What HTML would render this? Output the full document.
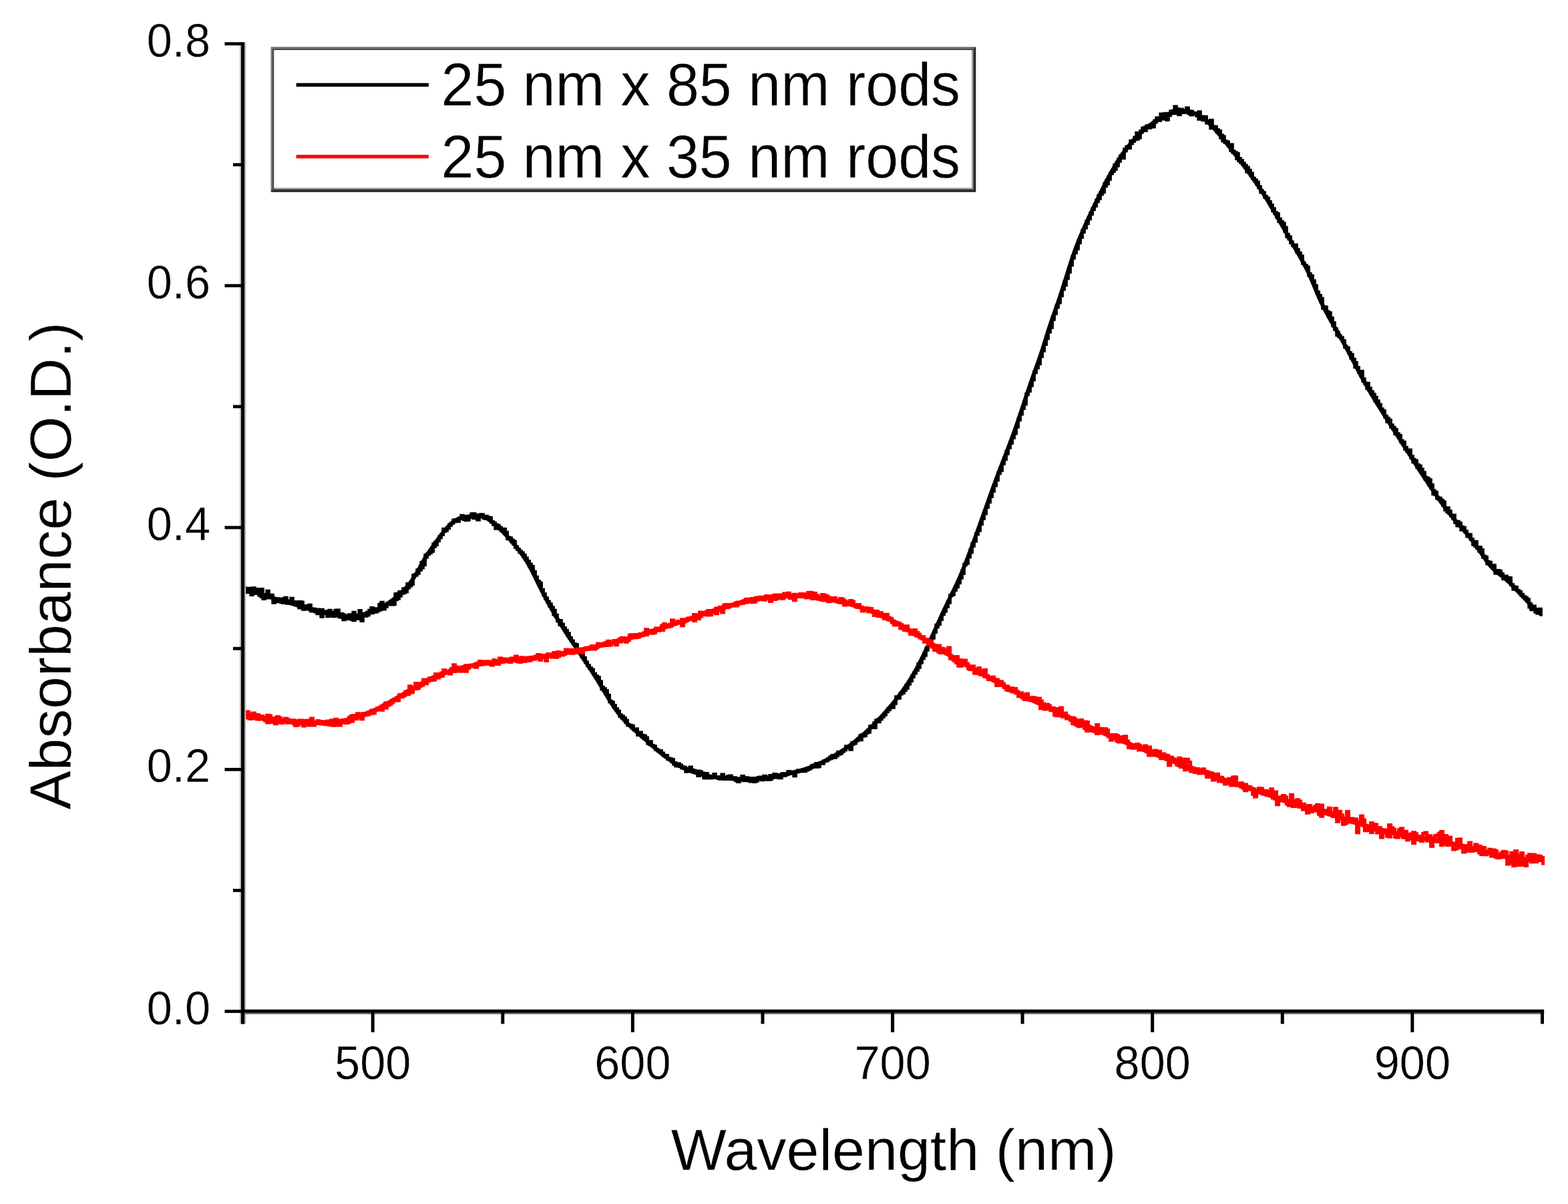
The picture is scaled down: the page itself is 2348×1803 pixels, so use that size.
<!DOCTYPE html>
<html><head><meta charset="utf-8"><title>Absorbance spectra</title>
<style>html,body{margin:0;padding:0;background:#fff;}svg{display:block;}</style>
</head><body>
<svg width="2348" height="1803" viewBox="0 0 2348 1803">
<style>text{font-family:"Liberation Sans",Arial,sans-serif;fill:#000;stroke:#fff;stroke-width:0.4px;}</style>
<rect width="2348" height="1803" fill="#fff"/>
<path d="M363.6,879.7 L366.6,880.8 L369.6,882.0 L372.6,883.1 L375.6,884.2 L378.6,885.3 L381.6,886.4 L384.6,887.5 L387.6,888.5 L390.6,889.5 L393.6,890.6 L396.6,891.6 L399.6,892.6 L402.6,893.5 L405.6,894.5 L408.6,895.4 L411.6,896.4 L414.6,897.3 L417.6,898.2 L420.6,899.2 L423.6,900.1 L426.6,901.0 L429.6,901.9 L432.6,902.8 L435.6,903.6 L438.6,904.5 L441.6,905.4 L444.6,906.3 L447.6,907.2 L450.6,908.0 L453.6,908.9 L456.6,909.8 L459.6,910.6 L462.6,911.5 L465.6,912.3 L468.6,913.2 L471.6,914.0 L474.6,914.8 L477.6,915.6 L480.6,916.4 L483.6,917.1 L486.6,917.8 L489.6,918.5 L492.6,919.2 L495.6,919.8 L498.6,920.4 L501.6,920.9 L504.6,921.4 L507.6,921.9 L510.6,922.2 L513.6,922.5 L516.6,922.6 L519.6,922.7 L522.6,922.7 L525.6,922.6 L528.6,922.5 L531.6,922.2 L534.6,921.8 L537.6,921.3 L540.6,920.8 L543.6,920.1 L546.6,919.4 L549.6,918.5 L552.6,917.5 L555.6,916.5 L558.6,915.3 L561.6,914.1 L564.6,912.7 L567.6,911.2 L570.6,909.7 L573.6,908.0 L576.6,906.2 L579.6,904.3 L582.6,902.3 L585.6,900.2 L588.6,898.0 L591.6,895.6 L594.6,893.2 L597.6,890.6 L600.6,887.9 L603.6,885.0 L606.6,881.9 L609.6,878.5 L612.6,874.9 L615.6,871.0 L618.6,866.8 L621.6,862.2 L624.6,857.3 L627.6,851.9 L630.6,846.2 L633.6,840.7 L636.6,835.5 L639.6,830.8 L642.6,826.3 L645.6,822.0 L648.6,817.8 L651.6,813.6 L654.6,809.4 L657.6,805.3 L660.6,801.3 L663.6,797.4 L666.6,793.7 L669.6,790.2 L672.6,787.0 L675.6,784.2 L678.6,781.7 L681.6,779.6 L684.6,777.9 L687.6,776.5 L690.6,775.5 L693.6,774.7 L696.6,774.1 L699.6,773.7 L702.6,773.4 L705.6,773.2 L708.6,773.0 L711.6,772.7 L714.6,772.6 L717.6,772.6 L720.6,773.0 L723.6,773.7 L726.6,775.0 L729.6,776.6 L732.6,778.6 L735.6,780.8 L738.6,783.2 L741.6,785.8 L744.6,788.4 L747.6,791.2 L750.6,794.0 L753.6,797.0 L756.6,800.1 L759.6,803.3 L762.6,806.6 L765.6,810.1 L768.6,813.6 L771.6,817.2 L774.6,820.9 L777.6,824.7 L780.6,828.7 L783.6,832.8 L786.6,837.2 L789.6,842.0 L792.6,847.2 L795.6,852.8 L798.6,858.7 L801.6,864.8 L804.6,870.9 L807.6,877.1 L810.6,883.0 L813.6,888.9 L816.6,894.6 L819.6,900.2 L822.6,905.7 L825.6,911.1 L828.6,916.3 L831.6,921.4 L834.6,926.5 L837.6,931.4 L840.6,936.3 L843.6,941.0 L846.6,945.7 L849.6,950.3 L852.6,954.9 L855.6,959.4 L858.6,963.9 L861.6,968.3 L864.6,972.7 L867.6,977.1 L870.6,981.6 L873.6,986.0 L876.6,990.5 L879.6,995.0 L882.6,999.6 L885.6,1004.2 L888.6,1008.9 L891.6,1013.7 L894.6,1018.5 L897.6,1023.4 L900.6,1028.3 L903.6,1033.3 L906.6,1038.3 L909.6,1043.3 L912.6,1048.2 L915.6,1053.0 L918.6,1057.7 L921.6,1062.0 L924.6,1066.1 L927.6,1070.0 L930.6,1073.6 L933.6,1077.1 L936.6,1080.3 L939.6,1083.4 L942.6,1086.3 L945.6,1089.2 L948.6,1091.9 L951.6,1094.6 L954.6,1097.2 L957.6,1099.8 L960.6,1102.4 L963.6,1105.0 L966.6,1107.6 L969.6,1110.3 L972.6,1112.9 L975.6,1115.6 L978.6,1118.2 L981.6,1120.8 L984.6,1123.4 L987.6,1125.9 L990.6,1128.4 L993.6,1130.8 L996.6,1133.2 L999.6,1135.4 L1002.6,1137.6 L1005.6,1139.6 L1008.6,1141.6 L1011.6,1143.4 L1014.6,1145.2 L1017.6,1146.9 L1020.6,1148.5 L1023.6,1149.9 L1026.6,1151.4 L1029.6,1152.7 L1032.6,1153.9 L1035.6,1155.1 L1038.6,1156.2 L1041.6,1157.2 L1044.6,1158.1 L1047.6,1159.0 L1050.6,1159.8 L1053.6,1160.6 L1056.6,1161.3 L1059.6,1161.9 L1062.6,1162.5 L1065.6,1163.1 L1068.6,1163.6 L1071.6,1164.0 L1074.6,1164.4 L1077.6,1164.8 L1080.6,1165.1 L1083.6,1165.4 L1086.6,1165.7 L1089.6,1165.9 L1092.6,1166.1 L1095.6,1166.3 L1098.6,1166.4 L1101.6,1166.5 L1104.6,1166.6 L1107.6,1166.7 L1110.6,1166.7 L1113.6,1166.7 L1116.6,1166.6 L1119.6,1166.6 L1122.6,1166.5 L1125.6,1166.3 L1128.6,1166.2 L1131.6,1166.0 L1134.6,1165.8 L1137.6,1165.5 L1140.6,1165.3 L1143.6,1165.0 L1146.6,1164.6 L1149.6,1164.3 L1152.6,1163.9 L1155.6,1163.4 L1158.6,1163.0 L1161.6,1162.5 L1164.6,1162.0 L1167.6,1161.5 L1170.6,1160.9 L1173.6,1160.3 L1176.6,1159.7 L1179.6,1159.0 L1182.6,1158.3 L1185.6,1157.6 L1188.6,1156.8 L1191.6,1156.0 L1194.6,1155.1 L1197.6,1154.3 L1200.6,1153.3 L1203.6,1152.4 L1206.6,1151.4 L1209.6,1150.3 L1212.6,1149.2 L1215.6,1148.1 L1218.6,1146.9 L1221.6,1145.7 L1224.6,1144.4 L1227.6,1143.0 L1230.6,1141.7 L1233.6,1140.2 L1236.6,1138.7 L1239.6,1137.2 L1242.6,1135.6 L1245.6,1133.9 L1248.6,1132.2 L1251.6,1130.5 L1254.6,1128.6 L1257.6,1126.7 L1260.6,1124.8 L1263.6,1122.8 L1266.6,1120.7 L1269.6,1118.6 L1272.6,1116.4 L1275.6,1114.1 L1278.6,1111.8 L1281.6,1109.4 L1284.6,1106.9 L1287.6,1104.4 L1290.6,1101.8 L1293.6,1099.2 L1296.6,1096.5 L1299.6,1093.7 L1302.6,1090.8 L1305.6,1087.9 L1308.6,1085.0 L1311.6,1081.9 L1314.6,1078.8 L1317.6,1075.7 L1320.6,1072.4 L1323.6,1069.1 L1326.6,1065.8 L1329.6,1062.3 L1332.6,1058.8 L1335.6,1055.3 L1338.6,1051.6 L1341.6,1047.9 L1344.6,1044.0 L1347.6,1040.1 L1350.6,1036.0 L1353.6,1031.8 L1356.6,1027.4 L1359.6,1022.9 L1362.6,1018.2 L1365.6,1013.3 L1368.6,1008.3 L1371.6,1003.0 L1374.6,997.5 L1377.6,991.8 L1380.6,985.8 L1383.6,979.6 L1386.6,973.3 L1389.6,966.8 L1392.6,960.2 L1395.6,953.5 L1398.6,946.8 L1401.6,940.2 L1404.6,933.5 L1407.6,926.9 L1410.6,920.4 L1413.6,913.9 L1416.6,907.5 L1419.6,901.2 L1422.6,895.0 L1425.6,889.0 L1428.6,883.0 L1431.6,876.8 L1434.6,870.3 L1437.6,863.5 L1440.6,856.5 L1443.6,849.1 L1446.6,841.6 L1449.6,833.8 L1452.6,825.9 L1455.6,817.9 L1458.6,809.7 L1461.6,801.4 L1464.6,793.1 L1467.6,784.7 L1470.6,776.3 L1473.6,767.8 L1476.6,759.4 L1479.6,751.0 L1482.6,742.6 L1485.6,734.3 L1488.6,726.1 L1491.6,718.0 L1494.6,710.0 L1497.6,702.1 L1500.6,694.3 L1503.6,686.6 L1506.6,678.9 L1509.6,671.0 L1512.6,663.1 L1515.6,655.1 L1518.6,646.9 L1521.6,638.4 L1524.6,629.7 L1527.6,620.8 L1530.6,611.8 L1533.6,602.7 L1536.6,593.7 L1539.6,584.7 L1542.6,575.9 L1545.6,567.2 L1548.6,558.8 L1551.6,550.5 L1554.6,542.1 L1557.6,533.5 L1560.6,524.5 L1563.6,515.1 L1566.6,505.3 L1569.6,495.7 L1572.6,486.5 L1575.6,477.7 L1578.6,469.1 L1581.6,460.5 L1584.6,451.9 L1587.6,443.1 L1590.6,433.9 L1593.6,424.4 L1596.6,414.9 L1599.6,405.3 L1602.6,395.9 L1605.6,386.8 L1608.6,378.1 L1611.6,369.9 L1614.6,362.1 L1617.6,354.7 L1620.6,347.6 L1623.6,340.8 L1626.6,334.1 L1629.6,327.6 L1632.6,321.1 L1635.6,314.7 L1638.6,308.4 L1641.6,302.1 L1644.6,295.9 L1647.6,289.8 L1650.6,283.7 L1653.6,277.8 L1656.6,272.0 L1659.6,266.4 L1662.6,260.9 L1665.6,255.5 L1668.6,250.3 L1671.6,245.3 L1674.6,240.4 L1677.6,235.7 L1680.6,231.3 L1683.6,227.0 L1686.6,223.0 L1689.6,219.1 L1692.6,215.4 L1695.6,211.9 L1698.6,208.5 L1701.6,205.4 L1704.6,202.3 L1707.6,199.4 L1710.6,196.7 L1713.6,194.0 L1716.6,191.5 L1719.6,189.1 L1722.6,186.8 L1725.6,184.6 L1728.6,182.5 L1731.6,180.5 L1734.6,178.5 L1737.6,176.7 L1740.6,175.0 L1743.6,173.4 L1746.6,172.0 L1749.6,170.7 L1752.6,169.5 L1755.6,168.5 L1758.6,167.6 L1761.6,167.0 L1764.6,166.5 L1767.6,166.2 L1770.6,166.1 L1773.6,166.1 L1776.6,166.4 L1779.6,166.9 L1782.6,167.6 L1785.6,168.5 L1788.6,169.6 L1791.6,171.0 L1794.6,172.5 L1797.6,174.3 L1800.6,176.4 L1803.6,178.7 L1806.6,181.1 L1809.6,183.8 L1812.6,186.7 L1815.6,189.7 L1818.6,192.9 L1821.6,196.2 L1824.6,199.7 L1827.6,203.2 L1830.6,206.8 L1833.6,210.6 L1836.6,214.3 L1839.6,218.2 L1842.6,222.0 L1845.6,225.9 L1848.6,229.8 L1851.6,233.7 L1854.6,237.6 L1857.6,241.5 L1860.6,245.5 L1863.6,249.5 L1866.6,253.5 L1869.6,257.6 L1872.6,261.8 L1875.6,266.0 L1878.6,270.3 L1881.6,274.6 L1884.6,279.0 L1887.6,283.6 L1890.6,288.2 L1893.6,292.9 L1896.6,297.7 L1899.6,302.6 L1902.6,307.6 L1905.6,312.7 L1908.6,317.8 L1911.6,323.0 L1914.6,328.3 L1917.6,333.6 L1920.6,338.8 L1923.6,344.1 L1926.6,349.4 L1929.6,354.7 L1932.6,360.0 L1935.6,365.3 L1938.6,370.5 L1941.6,375.6 L1944.6,380.7 L1947.6,385.9 L1950.6,391.2 L1953.6,396.7 L1956.6,402.6 L1959.6,408.8 L1962.6,415.6 L1965.6,422.6 L1968.6,429.9 L1971.6,437.1 L1974.6,444.1 L1977.6,450.7 L1980.6,457.0 L1983.6,463.0 L1986.6,468.7 L1989.6,474.2 L1992.6,479.5 L1995.6,484.7 L1998.6,489.9 L2001.6,495.0 L2004.6,500.2 L2007.6,505.4 L2010.6,510.7 L2013.6,516.2 L2016.6,521.7 L2019.6,527.4 L2022.6,533.1 L2025.6,538.8 L2028.6,544.6 L2031.6,550.3 L2034.6,556.0 L2037.6,561.7 L2040.6,567.3 L2043.6,572.7 L2046.6,578.1 L2049.6,583.3 L2052.6,588.5 L2055.6,593.5 L2058.6,598.5 L2061.6,603.4 L2064.6,608.2 L2067.6,613.0 L2070.6,617.7 L2073.6,622.5 L2076.6,627.2 L2079.6,631.9 L2082.6,636.6 L2085.6,641.3 L2088.6,646.0 L2091.6,650.7 L2094.6,655.4 L2097.6,660.1 L2100.6,664.8 L2103.6,669.4 L2106.6,674.1 L2109.6,678.8 L2112.6,683.5 L2115.6,688.2 L2118.6,692.9 L2121.6,697.6 L2124.6,702.3 L2127.6,706.9 L2130.6,711.5 L2133.6,716.1 L2136.6,720.7 L2139.6,725.2 L2142.6,729.7 L2145.6,734.2 L2148.6,738.6 L2151.6,742.9 L2154.6,747.2 L2157.6,751.4 L2160.6,755.5 L2163.6,759.6 L2166.6,763.6 L2169.6,767.5 L2172.6,771.4 L2175.6,775.1 L2178.6,778.7 L2181.6,782.3 L2184.6,785.8 L2187.6,789.1 L2190.6,792.5 L2193.6,795.9 L2196.6,799.4 L2199.6,803.0 L2202.6,806.8 L2205.6,810.6 L2208.6,814.7 L2211.6,818.8 L2214.6,823.1 L2217.6,827.5 L2220.6,832.0 L2223.6,836.4 L2226.6,840.7 L2229.6,844.7 L2232.6,848.3 L2235.6,851.6 L2238.6,854.4 L2241.6,856.9 L2244.6,859.2 L2247.6,861.5 L2250.6,863.9 L2253.6,866.3 L2256.6,869.0 L2259.6,871.7 L2262.6,874.6 L2265.6,877.6 L2268.6,880.7 L2271.6,883.8 L2274.6,887.0 L2277.6,890.2 L2280.6,893.4 L2283.6,896.7 L2286.6,899.8 L2289.6,903.0 L2292.6,906.1 L2295.6,909.1 L2298.6,912.0 L2301.6,914.8 L2304.6,917.4 L2307.6,919.9" fill="none" stroke="#000" stroke-width="6.0" stroke-linejoin="round"/>
<path d="M363.6,879.8H366.6V886.3H369.6V886.9H372.6V881.1H375.6V883.0H378.6V883.2H381.6V888.7H384.6V887.2H387.6V891.5H390.6V882.2H393.6V896.8H396.6V891.2H399.6V895.3H402.6V893.0H405.6V893.0H408.6V897.3H411.6V899.7H414.6V896.5H417.6V897.6H420.6V901.9H423.6V896.6H426.6V894.9H429.6V903.4H432.6V900.1H435.6V896.0H438.6V901.3H441.6V903.5H444.6V901.5H447.6V901.2H450.6V908.2H453.6V912.5H456.6V908.8H459.6V907.7H462.6V913.0H465.6V915.2H468.6V912.0H471.6V916.2H474.6V919.0H477.6V914.8H480.6V913.1H483.6V918.5H486.6V918.8H489.6V922.9H492.6V914.1H495.6V917.2H498.6V917.1H501.6V914.0H504.6V921.9H507.6V924.0H510.6V919.2H513.6V928.0H516.6V925.9H519.6V925.2H522.6V924.3H525.6V926.5H528.6V917.1H531.6V924.6H534.6V924.2H537.6V914.3H540.6V922.2H543.6V919.1H546.6V922.5H549.6V916.7H552.6V917.5H555.6V917.9H558.6V911.8H561.6V916.5H564.6V912.3H567.6V913.2H570.6V907.6H573.6V912.3H576.6V908.6H579.6V903.6H582.6V904.8H585.6V905.2H588.6V905.1H591.6V889.4H594.6V896.6H597.6V892.4H600.6V887.5H603.6V881.4H606.6V886.2H609.6V874.3H612.6V876.8H615.6V875.1H618.6V861.8H621.6V861.3H624.6V853.5H627.6V852.6H630.6V850.3H633.6V846.0H636.6V831.1H639.6V829.4H642.6V828.0H645.6V825.8H648.6V818.8H651.6V811.8H654.6V810.1H657.6V805.3H660.6V800.8H663.6V795.7H666.6V794.6H669.6V791.0H672.6V786.8H675.6V783.7H678.6V778.7H681.6V778.4H684.6V780.7H687.6V776.1H690.6V772.1H693.6V777.8H696.6V775.4H699.6V778.6H702.6V773.6H705.6V772.1H708.6V769.6H711.6V775.7H714.6V778.4H717.6V770.7H720.6V771.5H723.6V775.1H726.6V773.1H729.6V776.0H732.6V777.8H735.6V781.3H738.6V785.7H741.6V785.8H744.6V790.5H747.6V790.2H750.6V794.8H753.6V792.3H756.6V796.9H759.6V805.1H762.6V805.4H765.6V811.3H768.6V814.8H771.6V820.1H774.6V822.7H777.6V826.9H780.6V828.4H783.6V831.3H786.6V835.7H789.6V841.0H792.6V844.8H795.6V851.6H798.6V858.5H801.6V865.3H804.6V870.2H807.6V873.1H810.6V882.9H813.6V889.4H816.6V896.8H819.6V901.4H822.6V904.4H825.6V909.6H828.6V920.3H831.6V923.0H834.6V930.1H837.6V935.6H840.6V934.7H843.6V941.8H846.6V946.6H849.6V951.4H852.6V955.9H855.6V959.8H858.6V964.2H861.6V965.4H864.6V972.4H867.6V975.7H870.6V981.8H873.6V985.1H876.6V991.6H879.6V996.5H882.6V1000.2H885.6V1004.8H888.6V1009.1H891.6V1012.9H894.6V1018.2H897.6V1022.5H900.6V1029.0H903.6V1033.3H906.6V1039.3H909.6V1040.9H912.6V1049.9H915.6V1051.6H918.6V1056.3H921.6V1061.7H924.6V1065.1H927.6V1070.6H930.6V1072.6H933.6V1075.0H936.6V1078.7H939.6V1085.9H942.6V1086.4H945.6V1086.9H948.6V1091.9H951.6V1091.5H954.6V1100.7H957.6V1096.8H960.6V1103.3H963.6V1106.1H966.6V1104.7H969.6V1110.9H972.6V1115.0H975.6V1116.5H978.6V1118.8H981.6V1122.8H984.6V1123.7H987.6V1126.6H990.6V1128.2H993.6V1132.1H996.6V1131.2H999.6V1137.1H1002.6V1136.5H1005.6V1137.3H1008.6V1142.4H1011.6V1147.1H1014.6V1147.3H1017.6V1145.8H1020.6V1150.0H1023.6V1149.0H1026.6V1151.1H1029.6V1152.9H1032.6V1148.8H1035.6V1155.5H1038.6V1153.9H1041.6V1155.6H1044.6V1154.8H1047.6V1155.6H1050.6V1157.7H1053.6V1162.5H1056.6V1165.1H1059.6V1161.9H1062.6V1165.0H1065.6V1162.5H1068.6V1159.2H1071.6V1164.4H1074.6V1165.4H1077.6V1163.8H1080.6V1165.8H1083.6V1166.7H1086.6V1163.6H1089.6V1162.4H1092.6V1165.6H1095.6V1165.8H1098.6V1165.6H1101.6V1168.9H1104.6V1170.7H1107.6V1165.7H1110.6V1168.3H1113.6V1168.9H1116.6V1168.3H1119.6V1169.0H1122.6V1165.6H1125.6V1168.0H1128.6V1170.7H1131.6V1167.8H1134.6V1164.4H1137.6V1166.9H1140.6V1168.0H1143.6V1165.8H1146.6V1163.4H1149.6V1167.5H1152.6V1161.3H1155.6V1164.5H1158.6V1163.0H1161.6V1160.1H1164.6V1164.5H1167.6V1162.2H1170.6V1158.6H1173.6V1161.5H1176.6V1158.8H1179.6V1155.3H1182.6V1157.0H1185.6V1158.1H1188.6V1158.0H1191.6V1156.3H1194.6V1155.2H1197.6V1155.1H1200.6V1153.0H1203.6V1154.5H1206.6V1151.6H1209.6V1150.8H1212.6V1150.2H1215.6V1146.2H1218.6V1145.6H1221.6V1148.4H1224.6V1145.0H1227.6V1142.6H1230.6V1142.3H1233.6V1139.4H1236.6V1139.2H1239.6V1136.0H1242.6V1136.1H1245.6V1131.2H1248.6V1134.5H1251.6V1129.6H1254.6V1125.9H1257.6V1126.4H1260.6V1124.2H1263.6V1123.0H1266.6V1118.8H1269.6V1119.2H1272.6V1122.5H1275.6V1112.0H1278.6V1112.3H1281.6V1108.9H1284.6V1107.2H1287.6V1101.4H1290.6V1099.9H1293.6V1099.9H1296.6V1096.4H1299.6V1096.4H1302.6V1089.7H1305.6V1088.2H1308.6V1089.7H1311.6V1080.7H1314.6V1077.4H1317.6V1075.6H1320.6V1072.4H1323.6V1070.5H1326.6V1066.0H1329.6V1061.1H1332.6V1059.2H1335.6V1059.4H1338.6V1053.6H1341.6V1043.5H1344.6V1043.8H1347.6V1038.7H1350.6V1037.0H1353.6V1031.5H1356.6V1030.4H1359.6V1024.3H1362.6V1019.6H1365.6V1013.6H1368.6V1008.2H1371.6V1003.5H1374.6V999.5H1377.6V992.6H1380.6V985.3H1383.6V981.5H1386.6V973.6H1389.6V966.7H1392.6V959.0H1395.6V952.7H1398.6V945.9H1401.6V936.0H1404.6V935.0H1407.6V927.7H1410.6V920.1H1413.6V915.4H1416.6V908.2H1419.6V901.8H1422.6V891.5H1425.6V888.6H1428.6V883.8H1431.6V879.1H1434.6V873.0H1437.6V865.6H1440.6V854.8H1443.6V846.0H1446.6V842.4H1449.6V833.9H1452.6V827.3H1455.6V817.7H1458.6V810.0H1461.6V799.3H1464.6V793.8H1467.6V784.1H1470.6V776.8H1473.6V768.5H1476.6V759.2H1479.6V751.4H1482.6V742.6H1485.6V735.4H1488.6V726.8H1491.6V717.2H1494.6V709.1H1497.6V704.7H1500.6V694.2H1503.6V688.1H1506.6V679.4H1509.6V670.2H1512.6V662.0H1515.6V655.3H1518.6V647.3H1521.6V639.4H1524.6V627.7H1527.6V619.9H1530.6V611.6H1533.6V605.2H1536.6V590.0H1539.6V585.4H1542.6V575.0H1545.6V567.9H1548.6V558.0H1551.6V551.1H1554.6V544.6H1557.6V534.1H1560.6V525.2H1563.6V515.7H1566.6V504.1H1569.6V496.6H1572.6V486.2H1575.6V476.4H1578.6V469.0H1581.6V460.2H1584.6V453.2H1587.6V443.0H1590.6V433.0H1593.6V426.9H1596.6V416.5H1599.6V407.5H1602.6V397.0H1605.6V386.6H1608.6V377.4H1611.6V369.4H1614.6V363.8H1617.6V354.9H1620.6V345.0H1623.6V340.7H1626.6V331.6H1629.6V327.9H1632.6V319.0H1635.6V312.5H1638.6V308.6H1641.6V301.9H1644.6V292.9H1647.6V291.1H1650.6V287.7H1653.6V275.1H1656.6V275.6H1659.6V265.0H1662.6V259.9H1665.6V255.1H1668.6V247.1H1671.6V248.2H1674.6V241.5H1677.6V234.0H1680.6V230.6H1683.6V223.3H1686.6V222.1H1689.6V221.5H1692.6V210.9H1695.6V210.7H1698.6V209.0H1701.6V208.3H1704.6V206.2H1707.6V198.1H1710.6V194.4H1713.6V195.4H1716.6V190.4H1719.6V188.1H1722.6V190.3H1725.6V190.0H1728.6V183.3H1731.6V179.8H1734.6V180.4H1737.6V170.7H1740.6V174.9H1743.6V170.0H1746.6V179.6H1749.6V173.0H1752.6V169.9H1755.6V167.9H1758.6V159.6H1761.6V169.3H1764.6V171.7H1767.6V163.8H1770.6V168.2H1773.6V168.4H1776.6V161.5H1779.6V169.9H1782.6V171.9H1785.6V169.2H1788.6V169.4H1791.6V173.5H1794.6V167.6H1797.6V174.6H1800.6V179.8H1803.6V174.7H1806.6V184.3H1809.6V182.5H1812.6V180.0H1815.6V189.4H1818.6V189.8H1821.6V197.2H1824.6V196.0H1827.6V206.5H1830.6V204.6H1833.6V211.6H1836.6V212.5H1839.6V217.2H1842.6V225.6H1845.6V226.5H1848.6V228.6H1851.6V230.1H1854.6V240.9H1857.6V243.6H1860.6V244.6H1863.6V250.2H1866.6V250.7H1869.6V254.9H1872.6V259.6H1875.6V266.9H1878.6V271.0H1881.6V272.7H1884.6V280.9H1887.6V285.5H1890.6V288.6H1893.6V295.5H1896.6V297.0H1899.6V302.4H1902.6V308.8H1905.6V312.6H1908.6V319.8H1911.6V320.0H1914.6V331.7H1917.6V331.7H1920.6V338.4H1923.6V340.8H1926.6V350.9H1929.6V357.8H1932.6V362.6H1935.6V367.3H1938.6V366.7H1941.6V373.7H1944.6V379.6H1947.6V383.6H1950.6V393.9H1953.6V397.2H1956.6V402.5H1959.6V410.0H1962.6V413.2H1965.6V420.4H1968.6V427.7H1971.6V438.3H1974.6V444.9H1977.6V452.1H1980.6V459.6H1983.6V459.7H1986.6V467.3H1989.6V474.5H1992.6V476.2H1995.6V483.4H1998.6V492.4H2001.6V497.7H2004.6V502.8H2007.6V505.5H2010.6V510.2H2013.6V518.8H2016.6V520.8H2019.6V528.2H2022.6V536.3H2025.6V537.9H2028.6V543.1H2031.6V550.3H2034.6V557.5H2037.6V562.9H2040.6V567.6H2043.6V574.1H2046.6V574.1H2049.6V581.2H2052.6V588.9H2055.6V591.2H2058.6V595.1H2061.6V600.4H2064.6V605.9H2067.6V612.5H2070.6V615.2H2073.6V623.0H2076.6V631.4H2079.6V631.5H2082.6V639.7H2085.6V642.0H2088.6V643.2H2091.6V650.0H2094.6V652.9H2097.6V662.0H2100.6V661.9H2103.6V672.8H2106.6V675.6H2109.6V673.8H2112.6V685.5H2115.6V692.1H2118.6V690.9H2121.6V700.1H2124.6V697.8H2127.6V707.5H2130.6V707.4H2133.6V717.3H2136.6V716.2H2139.6V718.6H2142.6V730.7H2145.6V739.9H2148.6V737.0H2151.6V745.0H2154.6V747.4H2157.6V750.6H2160.6V757.1H2163.6V763.8H2166.6V760.5H2169.6V769.0H2172.6V772.2H2175.6V771.5H2178.6V782.8H2181.6V787.2H2184.6V783.3H2187.6V793.6H2190.6V792.7H2193.6V795.5H2196.6V803.2H2199.6V803.6H2202.6V807.6H2205.6V814.5H2208.6V818.0H2211.6V821.1H2214.6V819.5H2217.6V823.5H2220.6V834.8H2223.6V834.0H2226.6V841.0H2229.6V841.9H2232.6V847.9H2235.6V848.3H2238.6V858.6H2241.6V854.3H2244.6V858.9H2247.6V861.0H2250.6V867.0H2253.6V862.7H2256.6V868.9H2259.6V871.2H2262.6V876.0H2265.6V878.8H2268.6V879.5H2271.6V884.5H2274.6V886.0H2277.6V891.4H2280.6V893.2H2283.6V895.0H2286.6V899.8H2289.6V903.9H2292.6V911.9H2295.6V907.8H2298.6V912.8H2301.6V918.6H2304.6V912.0H2307.6V915.4" fill="none" stroke="#000" stroke-width="4.5" stroke-linejoin="miter"/>
<path d="M363.6,879.6H366.6V885.0H369.6V885.0H372.6V886.0H375.6V890.7H378.6V880.5H381.6V883.9H384.6V882.2H387.6V888.1H390.6V893.5H393.6V890.5H396.6V893.5H399.6V884.9H402.6V894.1H405.6V890.9H408.6V902.5H411.6V899.9H414.6V901.1H417.6V898.0H420.6V901.6H423.6V902.7H426.6V899.6H429.6V899.9H432.6V902.3H435.6V901.2H438.6V902.2H441.6V904.3H444.6V903.4H447.6V910.2H450.6V901.7H453.6V912.2H456.6V907.3H459.6V908.5H462.6V906.1H465.6V911.8H468.6V912.2H471.6V914.8H474.6V912.7H477.6V916.0H480.6V923.6H483.6V918.7H486.6V915.5H489.6V922.3H492.6V918.7H495.6V922.2H498.6V922.9H501.6V919.4H504.6V913.7H507.6V920.5H510.6V924.4H513.6V920.9H516.6V924.4H519.6V926.7H522.6V920.6H525.6V927.6H528.6V929.0H531.6V926.5H534.6V926.5H537.6V925.7H540.6V929.8H543.6V920.9H546.6V919.4H549.6V920.9H552.6V913.9H555.6V910.3H558.6V911.8H561.6V915.6H564.6V914.6H567.6V905.1H570.6V902.1H573.6V906.7H576.6V905.4H579.6V904.1H582.6V905.0H585.6V905.1H588.6V898.9H591.6V898.1H594.6V889.0H597.6V886.2H600.6V888.8H603.6V887.4H606.6V884.4H609.6V880.5H612.6V877.5H615.6V873.6H618.6V861.4H621.6V860.0H624.6V858.6H627.6V853.6H630.6V842.2H633.6V843.7H636.6V834.4H639.6V830.2H642.6V827.0H645.6V823.8H648.6V814.4H651.6V816.0H654.6V809.6H657.6V803.5H660.6V800.6H663.6V792.2H666.6V792.2H669.6V790.7H672.6V785.4H675.6V783.4H678.6V781.3H681.6V779.7H684.6V780.2H687.6V776.5H690.6V774.9H693.6V775.9H696.6V778.9H699.6V772.9H702.6V774.6H705.6V769.6H708.6V776.0H711.6V774.2H714.6V775.6H717.6V772.5H720.6V770.6H723.6V775.7H726.6V776.7H729.6V774.7H732.6V775.3H735.6V781.9H738.6V782.9H741.6V791.6H744.6V787.0H747.6V790.0H750.6V793.8H753.6V793.3H756.6V798.2H759.6V807.0H762.6V806.4H765.6V808.7H768.6V810.8H771.6V818.5H774.6V822.3H777.6V825.3H780.6V827.8H783.6V833.5H786.6V838.0H789.6V840.6H792.6V848.5H795.6V848.3H798.6V856.0H801.6V864.1H804.6V870.7H807.6V874.7H810.6V883.7H813.6V891.1H816.6V895.5H819.6V900.7H822.6V907.4H825.6V911.9H828.6V914.0H831.6V921.0H834.6V929.1H837.6V929.2H840.6V936.4H843.6V940.3H846.6V944.0H849.6V948.4H852.6V955.1H855.6V960.0H858.6V964.4H861.6V965.5H864.6V972.2H867.6V977.8H870.6V983.3H873.6V987.3H876.6V992.0H879.6V997.0H882.6V1001.1H885.6V1002.7H888.6V1009.0H891.6V1012.4H894.6V1014.2H897.6V1020.4H900.6V1032.1H903.6V1031.3H906.6V1034.2H909.6V1042.2H912.6V1051.0H915.6V1052.9H918.6V1058.4H921.6V1061.5H924.6V1066.0H927.6V1072.4H930.6V1075.1H933.6V1076.9H936.6V1082.0H939.6V1085.5H942.6V1085.9H945.6V1089.7H948.6V1092.4H951.6V1093.3H954.6V1099.5H957.6V1099.5H960.6V1101.2H963.6V1101.7H966.6V1105.1H969.6V1113.4H972.6V1110.6H975.6V1116.5H978.6V1117.5H981.6V1121.9H984.6V1124.6H987.6V1124.3H990.6V1127.8H993.6V1131.0H996.6V1133.4H999.6V1135.4H1002.6V1136.9H1005.6V1141.0H1008.6V1144.4H1011.6V1144.6H1014.6V1143.6H1017.6V1147.7H1020.6V1148.6H1023.6V1150.9H1026.6V1155.4H1029.6V1152.2H1032.6V1153.9H1035.6V1153.1H1038.6V1155.5H1041.6V1155.9H1044.6V1161.7H1047.6V1159.7H1050.6V1158.5H1053.6V1165.0H1056.6V1158.3H1059.6V1163.9H1062.6V1164.9H1065.6V1164.4H1068.6V1163.0H1071.6V1163.7H1074.6V1163.6H1077.6V1166.6H1080.6V1159.7H1083.6V1164.2H1086.6V1166.0H1089.6V1164.5H1092.6V1161.8H1095.6V1165.7H1098.6V1164.6H1101.6V1168.4H1104.6V1169.9H1107.6V1166.8H1110.6V1162.2H1113.6V1166.2H1116.6V1164.5H1119.6V1168.1H1122.6V1170.3H1125.6V1167.1H1128.6V1170.7H1131.6V1169.4H1134.6V1167.3H1137.6V1163.7H1140.6V1165.7H1143.6V1162.1H1146.6V1167.1H1149.6V1164.8H1152.6V1167.0H1155.6V1164.3H1158.6V1159.3H1161.6V1164.1H1164.6V1164.2H1167.6V1165.1H1170.6V1159.3H1173.6V1158.8H1176.6V1160.1H1179.6V1157.2H1182.6V1156.0H1185.6V1155.8H1188.6V1161.9H1191.6V1155.1H1194.6V1153.5H1197.6V1153.7H1200.6V1153.5H1203.6V1154.9H1206.6V1153.2H1209.6V1151.9H1212.6V1149.5H1215.6V1148.5H1218.6V1145.9H1221.6V1143.2H1224.6V1148.1H1227.6V1142.4H1230.6V1143.6H1233.6V1139.8H1236.6V1138.8H1239.6V1137.1H1242.6V1133.4H1245.6V1134.0H1248.6V1133.1H1251.6V1132.1H1254.6V1129.6H1257.6V1128.6H1260.6V1125.5H1263.6V1122.9H1266.6V1117.5H1269.6V1117.8H1272.6V1119.1H1275.6V1114.4H1278.6V1113.2H1281.6V1109.2H1284.6V1105.9H1287.6V1107.9H1290.6V1102.6H1293.6V1101.8H1296.6V1097.5H1299.6V1093.3H1302.6V1087.3H1305.6V1088.2H1308.6V1082.6H1311.6V1078.5H1314.6V1081.0H1317.6V1077.0H1320.6V1073.6H1323.6V1069.3H1326.6V1065.8H1329.6V1063.1H1332.6V1059.2H1335.6V1055.5H1338.6V1052.9H1341.6V1044.1H1344.6V1045.6H1347.6V1039.2H1350.6V1037.5H1353.6V1033.7H1356.6V1026.2H1359.6V1024.2H1362.6V1019.5H1365.6V1012.3H1368.6V1007.5H1371.6V1003.2H1374.6V994.1H1377.6V991.1H1380.6V986.1H1383.6V979.0H1386.6V970.9H1389.6V966.2H1392.6V962.5H1395.6V955.5H1398.6V946.7H1401.6V939.0H1404.6V933.5H1407.6V926.9H1410.6V919.4H1413.6V913.4H1416.6V908.4H1419.6V902.6H1422.6V891.5H1425.6V890.4H1428.6V883.2H1431.6V878.5H1434.6V870.3H1437.6V864.2H1440.6V858.8H1443.6V844.9H1446.6V843.8H1449.6V834.1H1452.6V823.4H1455.6V814.1H1458.6V810.2H1461.6V800.0H1464.6V794.5H1467.6V785.0H1470.6V776.1H1473.6V769.3H1476.6V759.7H1479.6V752.1H1482.6V743.8H1485.6V734.8H1488.6V727.3H1491.6V719.1H1494.6V708.0H1497.6V701.7H1500.6V694.2H1503.6V686.0H1506.6V676.5H1509.6V670.2H1512.6V663.7H1515.6V655.4H1518.6V649.2H1521.6V637.5H1524.6V629.0H1527.6V619.9H1530.6V611.3H1533.6V601.8H1536.6V590.7H1539.6V585.2H1542.6V577.4H1545.6V569.0H1548.6V557.1H1551.6V550.2H1554.6V545.1H1557.6V533.3H1560.6V525.1H1563.6V514.8H1566.6V507.0H1569.6V497.3H1572.6V490.4H1575.6V478.5H1578.6V469.8H1581.6V458.5H1584.6V451.3H1587.6V441.9H1590.6V433.3H1593.6V422.2H1596.6V416.9H1599.6V403.5H1602.6V396.4H1605.6V384.7H1608.6V378.7H1611.6V372.8H1614.6V360.7H1617.6V355.4H1620.6V347.5H1623.6V341.3H1626.6V334.8H1629.6V326.5H1632.6V320.8H1635.6V313.7H1638.6V306.9H1641.6V299.9H1644.6V297.6H1647.6V288.4H1650.6V285.0H1653.6V278.9H1656.6V270.1H1659.6V268.5H1662.6V259.1H1665.6V256.8H1668.6V253.5H1671.6V243.7H1674.6V238.3H1677.6V233.5H1680.6V236.8H1683.6V226.1H1686.6V219.8H1689.6V221.2H1692.6V214.9H1695.6V211.8H1698.6V205.8H1701.6V199.0H1704.6V200.2H1707.6V196.3H1710.6V191.7H1713.6V190.7H1716.6V188.5H1719.6V191.6H1722.6V189.0H1725.6V186.2H1728.6V180.7H1731.6V176.4H1734.6V179.4H1737.6V178.1H1740.6V178.2H1743.6V173.3H1746.6V171.5H1749.6V171.6H1752.6V166.5H1755.6V165.9H1758.6V169.7H1761.6V162.9H1764.6V166.2H1767.6V168.6H1770.6V166.8H1773.6V167.5H1776.6V162.8H1779.6V166.5H1782.6V166.7H1785.6V170.4H1788.6V170.9H1791.6V171.1H1794.6V178.6H1797.6V176.1H1800.6V175.5H1803.6V176.7H1806.6V181.1H1809.6V182.0H1812.6V192.0H1815.6V191.6H1818.6V192.0H1821.6V194.2H1824.6V196.3H1827.6V202.4H1830.6V211.0H1833.6V213.2H1836.6V214.2H1839.6V218.7H1842.6V216.6H1845.6V228.2H1848.6V229.2H1851.6V237.7H1854.6V237.2H1857.6V240.3H1860.6V246.2H1863.6V247.8H1866.6V257.3H1869.6V258.5H1872.6V262.9H1875.6V267.0H1878.6V269.4H1881.6V276.0H1884.6V279.6H1887.6V288.1H1890.6V288.4H1893.6V293.9H1896.6V296.7H1899.6V301.9H1902.6V307.0H1905.6V316.0H1908.6V318.2H1911.6V325.6H1914.6V327.8H1917.6V332.9H1920.6V334.4H1923.6V346.4H1926.6V354.6H1929.6V354.4H1932.6V363.7H1935.6V367.5H1938.6V369.0H1941.6V377.7H1944.6V378.8H1947.6V385.4H1950.6V394.4H1953.6V397.3H1956.6V400.0H1959.6V412.5H1962.6V413.1H1965.6V422.5H1968.6V429.3H1971.6V436.9H1974.6V442.3H1977.6V447.0H1980.6V461.8H1983.6V460.9H1986.6V466.8H1989.6V468.5H1992.6V480.0H1995.6V488.1H1998.6V493.5H2001.6V502.0H2004.6V504.1H2007.6V506.6H2010.6V511.0H2013.6V519.9H2016.6V521.9H2019.6V528.1H2022.6V531.0H2025.6V539.3H2028.6V549.7H2031.6V550.4H2034.6V557.3H2037.6V556.0H2040.6V570.8H2043.6V573.9H2046.6V581.8H2049.6V584.2H2052.6V586.6H2055.6V590.4H2058.6V599.9H2061.6V603.5H2064.6V606.0H2067.6V613.0H2070.6V616.3H2073.6V624.4H2076.6V626.3H2079.6V628.9H2082.6V636.4H2085.6V639.9H2088.6V649.7H2091.6V649.5H2094.6V652.1H2097.6V659.9H2100.6V664.1H2103.6V670.1H2106.6V674.6H2109.6V676.2H2112.6V683.3H2115.6V687.9H2118.6V689.8H2121.6V696.1H2124.6V702.7H2127.6V702.8H2130.6V708.7H2133.6V714.8H2136.6V720.3H2139.6V726.3H2142.6V726.1H2145.6V734.7H2148.6V739.9H2151.6V746.6H2154.6V745.9H2157.6V748.9H2160.6V751.4H2163.6V760.8H2166.6V766.7H2169.6V765.6H2172.6V772.3H2175.6V777.1H2178.6V781.0H2181.6V781.1H2184.6V787.3H2187.6V788.9H2190.6V790.1H2193.6V796.5H2196.6V800.3H2199.6V800.6H2202.6V807.9H2205.6V815.7H2208.6V810.9H2211.6V820.7H2214.6V825.5H2217.6V827.7H2220.6V832.8H2223.6V835.8H2226.6V844.2H2229.6V842.3H2232.6V848.0H2235.6V846.6H2238.6V855.2H2241.6V857.8H2244.6V854.9H2247.6V859.2H2250.6V865.0H2253.6V865.0H2256.6V865.8H2259.6V865.2H2262.6V875.4H2265.6V882.5H2268.6V879.4H2271.6V884.8H2274.6V888.0H2277.6V889.9H2280.6V893.6H2283.6V896.8H2286.6V897.5H2289.6V909.3H2292.6V913.0H2295.6V909.7H2298.6V916.5H2301.6V912.5H2304.6V916.7H2307.6V922.8" fill="none" stroke="#000" stroke-width="4.5" stroke-linejoin="miter"/>
<path d="M363.6,1069.8 L366.6,1070.4 L369.6,1070.9 L372.6,1071.5 L375.6,1072.0 L378.6,1072.5 L381.6,1073.1 L384.6,1073.6 L387.6,1074.1 L390.6,1074.6 L393.6,1075.1 L396.6,1075.6 L399.6,1076.0 L402.6,1076.5 L405.6,1076.9 L408.6,1077.3 L411.6,1077.8 L414.6,1078.2 L417.6,1078.5 L420.6,1078.9 L423.6,1079.3 L426.6,1079.6 L429.6,1079.9 L432.6,1080.2 L435.6,1080.5 L438.6,1080.8 L441.6,1081.0 L444.6,1081.3 L447.6,1081.5 L450.6,1081.7 L453.6,1081.8 L456.6,1082.0 L459.6,1082.1 L462.6,1082.2 L465.6,1082.3 L468.6,1082.4 L471.6,1082.4 L474.6,1082.4 L477.6,1082.4 L480.6,1082.3 L483.6,1082.3 L486.6,1082.1 L489.6,1082.0 L492.6,1081.8 L495.6,1081.6 L498.6,1081.3 L501.6,1081.0 L504.6,1080.6 L507.6,1080.2 L510.6,1079.8 L513.6,1079.3 L516.6,1078.8 L519.6,1078.2 L522.6,1077.5 L525.6,1076.8 L528.6,1076.1 L531.6,1075.2 L534.6,1074.4 L537.6,1073.4 L540.6,1072.4 L543.6,1071.4 L546.6,1070.2 L549.6,1069.0 L552.6,1067.8 L555.6,1066.4 L558.6,1065.0 L561.6,1063.6 L564.6,1062.1 L567.6,1060.5 L570.6,1058.9 L573.6,1057.3 L576.6,1055.6 L579.6,1053.9 L582.6,1052.2 L585.6,1050.4 L588.6,1048.7 L591.6,1046.9 L594.6,1045.2 L597.6,1043.4 L600.6,1041.7 L603.6,1039.9 L606.6,1038.1 L609.6,1036.4 L612.6,1034.6 L615.6,1032.9 L618.6,1031.1 L621.6,1029.4 L624.6,1027.6 L627.6,1025.8 L630.6,1024.1 L633.6,1022.4 L636.6,1020.8 L639.6,1019.2 L642.6,1017.6 L645.6,1016.1 L648.6,1014.7 L651.6,1013.3 L654.6,1012.0 L657.6,1010.8 L660.6,1009.6 L663.6,1008.4 L666.6,1007.3 L669.6,1006.3 L672.6,1005.3 L675.6,1004.3 L678.6,1003.4 L681.6,1002.5 L684.6,1001.7 L687.6,1000.9 L690.6,1000.2 L693.6,999.5 L696.6,998.8 L699.6,998.1 L702.6,997.5 L705.6,996.9 L708.6,996.4 L711.6,995.8 L714.6,995.3 L717.6,994.9 L720.6,994.4 L723.6,994.0 L726.6,993.5 L729.6,993.1 L732.6,992.7 L735.6,992.4 L738.6,992.0 L741.6,991.7 L744.6,991.3 L747.6,991.0 L750.6,990.7 L753.6,990.4 L756.6,990.0 L759.6,989.7 L762.6,989.4 L765.6,989.1 L768.6,988.8 L771.6,988.5 L774.6,988.1 L777.6,987.8 L780.6,987.5 L783.6,987.1 L786.6,986.7 L789.6,986.4 L792.6,986.0 L795.6,985.6 L798.6,985.2 L801.6,984.8 L804.6,984.4 L807.6,984.0 L810.6,983.5 L813.6,983.1 L816.6,982.6 L819.6,982.2 L822.6,981.7 L825.6,981.2 L828.6,980.8 L831.6,980.3 L834.6,979.8 L837.6,979.2 L840.6,978.7 L843.6,978.2 L846.6,977.6 L849.6,977.1 L852.6,976.5 L855.6,976.0 L858.6,975.4 L861.6,974.8 L864.6,974.2 L867.6,973.6 L870.6,973.0 L873.6,972.4 L876.6,971.7 L879.6,971.1 L882.6,970.5 L885.6,969.8 L888.6,969.1 L891.6,968.5 L894.6,967.8 L897.6,967.1 L900.6,966.4 L903.6,965.7 L906.6,964.9 L909.6,964.2 L912.6,963.5 L915.6,962.7 L918.6,961.9 L921.6,961.2 L924.6,960.4 L927.6,959.6 L930.6,958.8 L933.6,958.0 L936.6,957.2 L939.6,956.4 L942.6,955.5 L945.6,954.7 L948.6,953.8 L951.6,953.0 L954.6,952.1 L957.6,951.2 L960.6,950.3 L963.6,949.4 L966.6,948.5 L969.6,947.6 L972.6,946.7 L975.6,945.7 L978.6,944.8 L981.6,943.8 L984.6,942.8 L987.6,941.9 L990.6,940.9 L993.6,939.9 L996.6,938.9 L999.6,937.9 L1002.6,936.9 L1005.6,935.8 L1008.6,934.8 L1011.6,933.8 L1014.6,932.8 L1017.6,931.7 L1020.6,930.7 L1023.6,929.7 L1026.6,928.6 L1029.6,927.6 L1032.6,926.5 L1035.6,925.5 L1038.6,924.5 L1041.6,923.5 L1044.6,922.4 L1047.6,921.4 L1050.6,920.4 L1053.6,919.4 L1056.6,918.4 L1059.6,917.4 L1062.6,916.4 L1065.6,915.5 L1068.6,914.5 L1071.6,913.5 L1074.6,912.6 L1077.6,911.7 L1080.6,910.8 L1083.6,909.9 L1086.6,909.0 L1089.6,908.1 L1092.6,907.2 L1095.6,906.4 L1098.6,905.6 L1101.6,904.8 L1104.6,904.0 L1107.6,903.2 L1110.6,902.5 L1113.6,901.7 L1116.6,901.0 L1119.6,900.4 L1122.6,899.7 L1125.6,899.1 L1128.6,898.4 L1131.6,897.9 L1134.6,897.3 L1137.6,896.8 L1140.6,896.3 L1143.6,895.8 L1146.6,895.3 L1149.6,894.9 L1152.6,894.5 L1155.6,894.2 L1158.6,893.8 L1161.6,893.5 L1164.6,893.3 L1167.6,893.0 L1170.6,892.8 L1173.6,892.7 L1176.6,892.5 L1179.6,892.4 L1182.6,892.3 L1185.6,892.3 L1188.6,892.3 L1191.6,892.3 L1194.6,892.3 L1197.6,892.4 L1200.6,892.5 L1203.6,892.7 L1206.6,892.9 L1209.6,893.1 L1212.6,893.3 L1215.6,893.6 L1218.6,893.9 L1221.6,894.3 L1224.6,894.7 L1227.6,895.1 L1230.6,895.5 L1233.6,896.0 L1236.6,896.5 L1239.6,897.1 L1242.6,897.6 L1245.6,898.2 L1248.6,898.8 L1251.6,899.5 L1254.6,900.1 L1257.6,900.8 L1260.6,901.5 L1263.6,902.3 L1266.6,903.1 L1269.6,903.8 L1272.6,904.7 L1275.6,905.5 L1278.6,906.4 L1281.6,907.3 L1284.6,908.2 L1287.6,909.2 L1290.6,910.2 L1293.6,911.3 L1296.6,912.3 L1299.6,913.4 L1302.6,914.5 L1305.6,915.7 L1308.6,916.9 L1311.6,918.1 L1314.6,919.4 L1317.6,920.7 L1320.6,922.0 L1323.6,923.4 L1326.6,924.8 L1329.6,926.3 L1332.6,927.8 L1335.6,929.3 L1338.6,930.8 L1341.6,932.4 L1344.6,934.0 L1347.6,935.7 L1350.6,937.4 L1353.6,939.1 L1356.6,940.8 L1359.6,942.6 L1362.6,944.3 L1365.6,946.1 L1368.6,947.9 L1371.6,949.7 L1374.6,951.6 L1377.6,953.4 L1380.6,955.3 L1383.6,957.1 L1386.6,959.0 L1389.6,960.9 L1392.6,962.8 L1395.6,964.7 L1398.6,966.5 L1401.6,968.4 L1404.6,970.3 L1407.6,972.2 L1410.6,974.0 L1413.6,975.9 L1416.6,977.7 L1419.6,979.6 L1422.6,981.4 L1425.6,983.2 L1428.6,985.0 L1431.6,986.8 L1434.6,988.6 L1437.6,990.4 L1440.6,992.1 L1443.6,993.9 L1446.6,995.7 L1449.6,997.4 L1452.6,999.1 L1455.6,1000.8 L1458.6,1002.6 L1461.6,1004.3 L1464.6,1006.0 L1467.6,1007.6 L1470.6,1009.3 L1473.6,1011.0 L1476.6,1012.6 L1479.6,1014.3 L1482.6,1015.9 L1485.6,1017.6 L1488.6,1019.2 L1491.6,1020.8 L1494.6,1022.4 L1497.6,1024.0 L1500.6,1025.6 L1503.6,1027.2 L1506.6,1028.8 L1509.6,1030.3 L1512.6,1031.9 L1515.6,1033.4 L1518.6,1035.0 L1521.6,1036.5 L1524.6,1038.0 L1527.6,1039.5 L1530.6,1041.0 L1533.6,1042.5 L1536.6,1044.0 L1539.6,1045.4 L1542.6,1046.9 L1545.6,1048.3 L1548.6,1049.8 L1551.6,1051.2 L1554.6,1052.7 L1557.6,1054.1 L1560.6,1055.6 L1563.6,1057.0 L1566.6,1058.4 L1569.6,1059.9 L1572.6,1061.3 L1575.6,1062.8 L1578.6,1064.2 L1581.6,1065.6 L1584.6,1067.0 L1587.6,1068.4 L1590.6,1069.9 L1593.6,1071.3 L1596.6,1072.7 L1599.6,1074.1 L1602.6,1075.5 L1605.6,1076.8 L1608.6,1078.2 L1611.6,1079.6 L1614.6,1081.0 L1617.6,1082.3 L1620.6,1083.7 L1623.6,1085.1 L1626.6,1086.4 L1629.6,1087.7 L1632.6,1089.1 L1635.6,1090.4 L1638.6,1091.7 L1641.6,1093.1 L1644.6,1094.4 L1647.6,1095.7 L1650.6,1097.0 L1653.6,1098.3 L1656.6,1099.6 L1659.6,1100.9 L1662.6,1102.2 L1665.6,1103.4 L1668.6,1104.7 L1671.6,1106.0 L1674.6,1107.2 L1677.6,1108.5 L1680.6,1109.7 L1683.6,1110.9 L1686.6,1112.2 L1689.6,1113.4 L1692.6,1114.6 L1695.6,1115.9 L1698.6,1117.1 L1701.6,1118.3 L1704.6,1119.5 L1707.6,1120.7 L1710.6,1121.9 L1713.6,1123.1 L1716.6,1124.2 L1719.6,1125.4 L1722.6,1126.6 L1725.6,1127.8 L1728.6,1128.9 L1731.6,1130.1 L1734.6,1131.3 L1737.6,1132.4 L1740.6,1133.6 L1743.6,1134.7 L1746.6,1135.9 L1749.6,1137.0 L1752.6,1138.1 L1755.6,1139.3 L1758.6,1140.4 L1761.6,1141.5 L1764.6,1142.7 L1767.6,1143.8 L1770.6,1144.9 L1773.6,1146.0 L1776.6,1147.1 L1779.6,1148.2 L1782.6,1149.4 L1785.6,1150.5 L1788.6,1151.6 L1791.6,1152.7 L1794.6,1153.8 L1797.6,1154.9 L1800.6,1156.0 L1803.6,1157.1 L1806.6,1158.1 L1809.6,1159.2 L1812.6,1160.3 L1815.6,1161.4 L1818.6,1162.5 L1821.6,1163.6 L1824.6,1164.6 L1827.6,1165.7 L1830.6,1166.8 L1833.6,1167.9 L1836.6,1168.9 L1839.6,1170.0 L1842.6,1171.0 L1845.6,1172.1 L1848.6,1173.1 L1851.6,1174.2 L1854.6,1175.2 L1857.6,1176.3 L1860.6,1177.3 L1863.6,1178.4 L1866.6,1179.4 L1869.6,1180.4 L1872.6,1181.4 L1875.6,1182.5 L1878.6,1183.5 L1881.6,1184.5 L1884.6,1185.5 L1887.6,1186.5 L1890.6,1187.5 L1893.6,1188.5 L1896.6,1189.5 L1899.6,1190.5 L1902.6,1191.5 L1905.6,1192.5 L1908.6,1193.5 L1911.6,1194.5 L1914.6,1195.4 L1917.6,1196.4 L1920.6,1197.4 L1923.6,1198.3 L1926.6,1199.3 L1929.6,1200.2 L1932.6,1201.2 L1935.6,1202.1 L1938.6,1203.1 L1941.6,1204.0 L1944.6,1204.9 L1947.6,1205.9 L1950.6,1206.8 L1953.6,1207.7 L1956.6,1208.6 L1959.6,1209.6 L1962.6,1210.5 L1965.6,1211.4 L1968.6,1212.4 L1971.6,1213.3 L1974.6,1214.2 L1977.6,1215.1 L1980.6,1216.1 L1983.6,1217.0 L1986.6,1217.9 L1989.6,1218.9 L1992.6,1219.8 L1995.6,1220.8 L1998.6,1221.7 L2001.6,1222.7 L2004.6,1223.6 L2007.6,1224.6 L2010.6,1225.6 L2013.6,1226.6 L2016.6,1227.5 L2019.6,1228.5 L2022.6,1229.5 L2025.6,1230.5 L2028.6,1231.4 L2031.6,1232.4 L2034.6,1233.4 L2037.6,1234.3 L2040.6,1235.3 L2043.6,1236.2 L2046.6,1237.1 L2049.6,1238.0 L2052.6,1238.9 L2055.6,1239.7 L2058.6,1240.6 L2061.6,1241.4 L2064.6,1242.2 L2067.6,1242.9 L2070.6,1243.6 L2073.6,1244.4 L2076.6,1245.1 L2079.6,1245.7 L2082.6,1246.4 L2085.6,1247.0 L2088.6,1247.7 L2091.6,1248.3 L2094.6,1248.9 L2097.6,1249.5 L2100.6,1250.0 L2103.6,1250.6 L2106.6,1251.1 L2109.6,1251.7 L2112.6,1252.2 L2115.6,1252.7 L2118.6,1253.3 L2121.6,1253.8 L2124.6,1254.3 L2127.6,1254.8 L2130.6,1255.3 L2133.6,1255.8 L2136.6,1256.4 L2139.6,1256.9 L2142.6,1257.4 L2145.6,1257.9 L2148.6,1258.4 L2151.6,1259.0 L2154.6,1259.5 L2157.6,1260.1 L2160.6,1260.6 L2163.6,1261.2 L2166.6,1261.8 L2169.6,1262.4 L2172.6,1263.0 L2175.6,1263.6 L2178.6,1264.2 L2181.6,1264.9 L2184.6,1265.6 L2187.6,1266.3 L2190.6,1267.0 L2193.6,1267.7 L2196.6,1268.5 L2199.6,1269.2 L2202.6,1270.0 L2205.6,1270.8 L2208.6,1271.6 L2211.6,1272.4 L2214.6,1273.2 L2217.6,1274.0 L2220.6,1274.8 L2223.6,1275.5 L2226.6,1276.3 L2229.6,1277.1 L2232.6,1277.9 L2235.6,1278.6 L2238.6,1279.4 L2241.6,1280.1 L2244.6,1280.8 L2247.6,1281.5 L2250.6,1282.2 L2253.6,1282.8 L2256.6,1283.4 L2259.6,1284.0 L2262.6,1284.5 L2265.6,1285.0 L2268.6,1285.5 L2271.6,1286.0 L2274.6,1286.4 L2277.6,1286.7 L2280.6,1287.0 L2283.6,1287.3 L2286.6,1287.5 L2289.6,1287.6 L2292.6,1287.7 L2295.6,1287.8 L2298.6,1287.8 L2301.6,1287.7 L2304.6,1287.6 L2307.6,1287.4 L2310.6,1287.1" fill="none" stroke="#ff0000" stroke-width="7.0" stroke-linejoin="round"/>
<path d="M363.6,1070.8H366.6V1074.6H369.6V1065.9H372.6V1076.2H375.6V1071.9H378.6V1070.3H381.6V1070.8H384.6V1070.6H387.6V1073.5H390.6V1076.9H393.6V1076.7H396.6V1077.3H399.6V1071.3H402.6V1072.1H405.6V1081.2H408.6V1080.0H411.6V1083.8H414.6V1081.5H417.6V1075.7H420.6V1082.5H423.6V1081.0H426.6V1080.2H429.6V1077.7H432.6V1080.2H435.6V1080.1H438.6V1083.2H441.6V1081.4H444.6V1085.6H447.6V1079.3H450.6V1083.0H453.6V1083.2H456.6V1079.6H459.6V1078.9H462.6V1085.0H465.6V1083.7H468.6V1081.9H471.6V1083.5H474.6V1080.6H477.6V1083.0H480.6V1080.7H483.6V1082.8H486.6V1084.8H489.6V1081.1H492.6V1084.1H495.6V1078.8H498.6V1080.5H501.6V1077.3H504.6V1080.4H507.6V1080.5H510.6V1079.3H513.6V1078.6H516.6V1082.4H519.6V1082.0H522.6V1074.2H525.6V1080.0H528.6V1071.4H531.6V1073.3H534.6V1073.9H537.6V1073.7H540.6V1069.6H543.6V1069.4H546.6V1070.4H549.6V1067.2H552.6V1066.0H555.6V1068.2H558.6V1067.5H561.6V1063.4H564.6V1062.1H567.6V1060.5H570.6V1057.7H573.6V1055.9H576.6V1052.8H579.6V1055.6H582.6V1051.9H585.6V1050.1H588.6V1049.2H591.6V1048.3H594.6V1049.0H597.6V1042.7H600.6V1040.6H603.6V1040.4H606.6V1035.9H609.6V1039.8H612.6V1037.1H615.6V1034.7H618.6V1030.8H621.6V1031.3H624.6V1030.4H627.6V1027.2H630.6V1023.4H633.6V1018.0H636.6V1023.3H639.6V1018.2H642.6V1015.4H645.6V1018.5H648.6V1015.6H651.6V1009.6H654.6V1011.8H657.6V1010.1H660.6V1012.2H663.6V1003.5H666.6V1006.3H669.6V1005.9H672.6V1009.0H675.6V1001.5H678.6V995.7H681.6V998.9H684.6V1002.4H687.6V1003.0H690.6V1004.7H693.6V1000.5H696.6V996.7H699.6V1000.4H702.6V997.5H705.6V996.4H708.6V996.4H711.6V999.2H714.6V993.0H717.6V992.2H720.6V994.2H723.6V993.8H726.6V991.4H729.6V990.8H732.6V993.7H735.6V995.9H738.6V993.9H741.6V993.4H744.6V994.6H747.6V985.8H750.6V986.7H753.6V988.5H756.6V986.9H759.6V987.2H762.6V989.6H765.6V985.8H768.6V987.6H771.6V983.1H774.6V985.6H777.6V991.3H780.6V986.0H783.6V987.9H786.6V988.6H789.6V985.1H792.6V987.5H795.6V986.2H798.6V987.0H801.6V983.1H804.6V980.6H807.6V981.3H810.6V982.1H813.6V984.5H816.6V982.1H819.6V981.1H822.6V981.2H825.6V984.1H828.6V979.3H831.6V984.2H834.6V976.6H837.6V977.7H840.6V980.9H843.6V979.5H846.6V975.4H849.6V976.8H852.6V974.7H855.6V978.2H858.6V976.8H861.6V973.0H864.6V975.2H867.6V972.7H870.6V972.8H873.6V972.5H876.6V970.3H879.6V972.2H882.6V971.7H885.6V970.9H888.6V972.0H891.6V967.7H894.6V963.9H897.6V965.8H900.6V966.9H903.6V965.7H906.6V966.4H909.6V966.3H912.6V963.2H915.6V962.4H918.6V959.4H921.6V963.9H924.6V959.7H927.6V956.8H930.6V955.9H933.6V956.9H936.6V961.2H939.6V958.4H942.6V951.1H945.6V954.4H948.6V954.5H951.6V954.6H954.6V953.0H957.6V949.5H960.6V951.4H963.6V948.0H966.6V942.7H969.6V945.7H972.6V944.9H975.6V948.2H978.6V947.5H981.6V941.1H984.6V943.3H987.6V942.1H990.6V937.1H993.6V934.5H996.6V938.6H999.6V938.2H1002.6V935.3H1005.6V928.8H1008.6V934.7H1011.6V932.3H1014.6V930.4H1017.6V930.9H1020.6V927.8H1023.6V931.1H1026.6V928.6H1029.6V926.1H1032.6V927.3H1035.6V925.4H1038.6V920.5H1041.6V923.1H1044.6V921.2H1047.6V916.9H1050.6V918.7H1053.6V920.5H1056.6V916.8H1059.6V921.1H1062.6V920.8H1065.6V914.7H1068.6V915.9H1071.6V918.7H1074.6V911.7H1077.6V909.3H1080.6V909.7H1083.6V906.3H1086.6V905.5H1089.6V908.6H1092.6V906.2H1095.6V907.0H1098.6V906.8H1101.6V902.8H1104.6V903.5H1107.6V902.5H1110.6V900.7H1113.6V899.6H1116.6V901.9H1119.6V900.0H1122.6V900.6H1125.6V901.7H1128.6V901.1H1131.6V895.0H1134.6V895.1H1137.6V896.1H1140.6V896.6H1143.6V898.2H1146.6V892.8H1149.6V893.8H1152.6V895.2H1155.6V897.4H1158.6V897.4H1161.6V890.9H1164.6V892.7H1167.6V890.9H1170.6V895.0H1173.6V893.8H1176.6V891.6H1179.6V890.8H1182.6V893.1H1185.6V894.8H1188.6V890.3H1191.6V891.4H1194.6V892.6H1197.6V892.5H1200.6V893.4H1203.6V890.1H1206.6V891.3H1209.6V887.6H1212.6V893.5H1215.6V896.4H1218.6V888.5H1221.6V892.6H1224.6V897.1H1227.6V894.7H1230.6V890.5H1233.6V899.1H1236.6V892.7H1239.6V900.7H1242.6V896.1H1245.6V896.3H1248.6V898.9H1251.6V899.4H1254.6V901.8H1257.6V902.2H1260.6V901.1H1263.6V905.9H1266.6V905.0H1269.6V904.6H1272.6V905.0H1275.6V905.3H1278.6V906.2H1281.6V909.1H1284.6V909.6H1287.6V909.3H1290.6V913.0H1293.6V910.5H1296.6V913.5H1299.6V915.8H1302.6V911.4H1305.6V915.0H1308.6V921.6H1311.6V915.4H1314.6V922.7H1317.6V917.7H1320.6V923.2H1323.6V920.4H1326.6V923.1H1329.6V925.2H1332.6V926.2H1335.6V932.2H1338.6V933.2H1341.6V934.9H1344.6V934.6H1347.6V940.4H1350.6V940.4H1353.6V940.0H1356.6V937.7H1359.6V944.6H1362.6V946.2H1365.6V946.4H1368.6V950.0H1371.6V952.0H1374.6V950.7H1377.6V955.1H1380.6V956.3H1383.6V958.1H1386.6V958.0H1389.6V959.5H1392.6V963.1H1395.6V968.9H1398.6V973.5H1401.6V967.3H1404.6V967.1H1407.6V971.1H1410.6V971.5H1413.6V974.6H1416.6V978.9H1419.6V976.8H1422.6V983.2H1425.6V985.6H1428.6V989.6H1431.6V992.4H1434.6V991.7H1437.6V997.3H1440.6V990.6H1443.6V994.8H1446.6V996.2H1449.6V998.8H1452.6V1002.3H1455.6V999.8H1458.6V1007.9H1461.6V1008.2H1464.6V1007.1H1467.6V1009.1H1470.6V1006.3H1473.6V1003.2H1476.6V1012.4H1479.6V1015.3H1482.6V1016.7H1485.6V1014.1H1488.6V1017.8H1491.6V1026.4H1494.6V1024.8H1497.6V1026.0H1500.6V1024.6H1503.6V1029.6H1506.6V1032.9H1509.6V1032.8H1512.6V1030.6H1515.6V1034.4H1518.6V1032.2H1521.6V1035.5H1524.6V1040.0H1527.6V1037.8H1530.6V1040.3H1533.6V1047.3H1536.6V1043.5H1539.6V1048.0H1542.6V1045.9H1545.6V1044.6H1548.6V1049.8H1551.6V1050.1H1554.6V1046.0H1557.6V1050.1H1560.6V1054.2H1563.6V1062.0H1566.6V1056.5H1569.6V1059.8H1572.6V1063.5H1575.6V1063.8H1578.6V1063.1H1581.6V1071.5H1584.6V1071.7H1587.6V1060.1H1590.6V1073.2H1593.6V1073.2H1596.6V1076.1H1599.6V1074.4H1602.6V1078.4H1605.6V1083.6H1608.6V1084.3H1611.6V1085.9H1614.6V1084.7H1617.6V1085.6H1620.6V1087.1H1623.6V1081.1H1626.6V1094.5H1629.6V1088.7H1632.6V1090.3H1635.6V1090.9H1638.6V1093.5H1641.6V1085.5H1644.6V1095.3H1647.6V1091.2H1650.6V1093.5H1653.6V1091.6H1656.6V1093.4H1659.6V1103.1H1662.6V1100.4H1665.6V1103.1H1668.6V1104.1H1671.6V1101.7H1674.6V1104.6H1677.6V1103.8H1680.6V1108.6H1683.6V1102.7H1686.6V1110.7H1689.6V1116.9H1692.6V1119.2H1695.6V1120.2H1698.6V1119.0H1701.6V1114.5H1704.6V1122.9H1707.6V1122.7H1710.6V1122.9H1713.6V1118.4H1716.6V1125.8H1719.6V1130.9H1722.6V1129.5H1725.6V1126.9H1728.6V1131.1H1731.6V1130.1H1734.6V1132.0H1737.6V1135.7H1740.6V1134.9H1743.6V1135.0H1746.6V1137.4H1749.6V1133.8H1752.6V1134.2H1755.6V1141.2H1758.6V1138.1H1761.6V1143.8H1764.6V1135.3H1767.6V1148.6H1770.6V1144.5H1773.6V1152.7H1776.6V1137.2H1779.6V1141.5H1782.6V1155.0H1785.6V1151.1H1788.6V1152.8H1791.6V1153.2H1794.6V1154.4H1797.6V1157.1H1800.6V1151.8H1803.6V1156.4H1806.6V1163.5H1809.6V1160.0H1812.6V1157.8H1815.6V1161.8H1818.6V1166.8H1821.6V1162.8H1824.6V1163.9H1827.6V1167.8H1830.6V1170.4H1833.6V1174.1H1836.6V1168.4H1839.6V1171.5H1842.6V1175.5H1845.6V1164.1H1848.6V1173.8H1851.6V1176.2H1854.6V1174.9H1857.6V1172.7H1860.6V1179.9H1863.6V1183.8H1866.6V1179.1H1869.6V1178.4H1872.6V1180.6H1875.6V1189.3H1878.6V1189.0H1881.6V1184.8H1884.6V1180.8H1887.6V1181.1H1890.6V1186.2H1893.6V1187.2H1896.6V1190.8H1899.6V1185.6H1902.6V1191.1H1905.6V1195.0H1908.6V1186.1H1911.6V1204.8H1914.6V1198.1H1917.6V1198.9H1920.6V1191.6H1923.6V1193.8H1926.6V1204.0H1929.6V1204.4H1932.6V1190.3H1935.6V1207.5H1938.6V1206.5H1941.6V1207.0H1944.6V1200.0H1947.6V1207.2H1950.6V1204.2H1953.6V1210.5H1956.6V1217.3H1959.6V1212.7H1962.6V1215.4H1965.6V1210.2H1968.6V1207.8H1971.6V1213.5H1974.6V1219.2H1977.6V1222.2H1980.6V1216.0H1983.6V1218.4H1986.6V1216.3H1989.6V1211.0H1992.6V1220.4H1995.6V1222.6H1998.6V1220.0H2001.6V1222.1H2004.6V1215.3H2007.6V1225.1H2010.6V1232.4H2013.6V1226.7H2016.6V1230.6H2019.6V1230.9H2022.6V1226.1H2025.6V1231.7H2028.6V1227.7H2031.6V1246.7H2034.6V1234.6H2037.6V1229.3H2040.6V1228.0H2043.6V1243.7H2046.6V1240.3H2049.6V1240.2H2052.6V1232.4H2055.6V1237.2H2058.6V1234.8H2061.6V1247.0H2064.6V1239.8H2067.6V1252.7H2070.6V1246.4H2073.6V1243.0H2076.6V1252.0H2079.6V1235.5H2082.6V1242.5H2085.6V1245.3H2088.6V1253.2H2091.6V1253.9H2094.6V1250.9H2097.6V1240.7H2100.6V1247.6H2103.6V1245.2H2106.6V1257.7H2109.6V1249.7H2112.6V1255.4H2115.6V1262.4H2118.6V1253.1H2121.6V1257.6H2124.6V1252.6H2127.6V1255.3H2130.6V1255.8H2133.6V1256.1H2136.6V1256.9H2139.6V1255.1H2142.6V1267.3H2145.6V1254.8H2148.6V1259.9H2151.6V1257.7H2154.6V1248.0H2157.6V1265.4H2160.6V1262.1H2163.6V1254.2H2166.6V1258.2H2169.6V1254.1H2172.6V1264.7H2175.6V1272.0H2178.6V1270.9H2181.6V1258.3H2184.6V1256.7H2187.6V1269.2H2190.6V1276.1H2193.6V1268.2H2196.6V1274.2H2199.6V1262.0H2202.6V1269.6H2205.6V1273.3H2208.6V1269.5H2211.6V1271.3H2214.6V1277.0H2217.6V1270.8H2220.6V1269.6H2223.6V1279.7H2226.6V1277.8H2229.6V1271.9H2232.6V1280.4H2235.6V1275.7H2238.6V1283.0H2241.6V1280.2H2244.6V1279.4H2247.6V1277.4H2250.6V1283.4H2253.6V1282.7H2256.6V1293.9H2259.6V1283.9H2262.6V1277.3H2265.6V1296.5H2268.6V1274.4H2271.6V1295.2H2274.6V1281.7H2277.6V1294.5H2280.6V1286.1H2283.6V1290.4H2286.6V1287.7H2289.6V1287.1H2292.6V1290.7H2295.6V1284.3H2298.6V1290.5H2301.6V1281.8H2304.6V1283.6H2307.6V1284.6H2310.6V1286.6" fill="none" stroke="#ff0000" stroke-width="5.0" stroke-linejoin="miter"/>
<path d="M363.6,1065.9H366.6V1067.0H369.6V1067.3H372.6V1069.7H375.6V1076.1H378.6V1068.1H381.6V1075.7H384.6V1077.1H387.6V1073.1H390.6V1072.6H393.6V1076.4H396.6V1078.9H399.6V1082.0H402.6V1078.9H405.6V1081.3H408.6V1076.1H411.6V1075.3H414.6V1073.4H417.6V1075.3H420.6V1077.9H423.6V1079.8H426.6V1076.0H429.6V1082.2H432.6V1079.9H435.6V1078.7H438.6V1078.7H441.6V1086.6H444.6V1081.7H447.6V1079.0H450.6V1079.0H453.6V1086.9H456.6V1080.4H459.6V1085.4H462.6V1086.1H465.6V1075.9H468.6V1086.1H471.6V1081.8H474.6V1079.5H477.6V1080.9H480.6V1083.9H483.6V1083.3H486.6V1083.3H489.6V1080.0H492.6V1085.3H495.6V1085.7H498.6V1086.3H501.6V1083.7H504.6V1085.8H507.6V1085.9H510.6V1081.7H513.6V1081.7H516.6V1080.3H519.6V1079.7H522.6V1079.9H525.6V1072.2H528.6V1075.2H531.6V1076.6H534.6V1068.7H537.6V1069.5H540.6V1076.7H543.6V1068.5H546.6V1069.0H549.6V1070.0H552.6V1066.5H555.6V1064.1H558.6V1063.7H561.6V1062.4H564.6V1060.5H567.6V1061.0H570.6V1063.2H573.6V1058.2H576.6V1059.9H579.6V1055.9H582.6V1054.4H585.6V1052.0H588.6V1047.9H591.6V1048.1H594.6V1046.0H597.6V1040.5H600.6V1043.6H603.6V1041.4H606.6V1039.1H609.6V1034.9H612.6V1027.7H615.6V1036.8H618.6V1030.9H621.6V1023.6H624.6V1029.3H627.6V1024.0H630.6V1025.9H633.6V1022.2H636.6V1023.8H639.6V1019.8H642.6V1018.4H645.6V1016.5H648.6V1018.0H651.6V1009.9H654.6V1015.1H657.6V1012.6H660.6V1008.1H663.6V1008.4H666.6V1006.2H669.6V1006.4H672.6V1007.7H675.6V1002.6H678.6V1005.4H681.6V1005.0H684.6V1003.4H687.6V1005.0H690.6V1000.0H693.6V1001.3H696.6V1005.2H699.6V998.2H702.6V997.2H705.6V996.9H708.6V997.9H711.6V994.2H714.6V994.7H717.6V990.3H720.6V991.7H723.6V991.3H726.6V990.5H729.6V992.0H732.6V994.5H735.6V991.4H738.6V988.6H741.6V992.3H744.6V991.8H747.6V987.4H750.6V991.1H753.6V987.6H756.6V988.4H759.6V987.8H762.6V991.5H765.6V986.9H768.6V987.9H771.6V988.9H774.6V990.8H777.6V990.9H780.6V984.8H783.6V990.2H786.6V987.5H789.6V989.5H792.6V988.7H795.6V984.2H798.6V985.3H801.6V984.0H804.6V985.4H807.6V988.3H810.6V983.7H813.6V981.4H816.6V989.2H819.6V979.6H822.6V981.7H825.6V981.2H828.6V977.4H831.6V982.3H834.6V982.5H837.6V979.0H840.6V978.9H843.6V977.8H846.6V973.1H849.6V977.7H852.6V973.3H855.6V973.5H858.6V976.4H861.6V977.2H864.6V972.0H867.6V976.6H870.6V977.6H873.6V972.8H876.6V971.6H879.6V971.6H882.6V969.4H885.6V967.6H888.6V970.8H891.6V970.3H894.6V966.5H897.6V966.0H900.6V964.8H903.6V963.8H906.6V962.4H909.6V960.3H912.6V965.8H915.6V961.8H918.6V962.1H921.6V965.8H924.6V959.1H927.6V961.1H930.6V955.3H933.6V956.4H936.6V959.0H939.6V955.7H942.6V951.8H945.6V950.7H948.6V954.7H951.6V950.5H954.6V953.8H957.6V951.9H960.6V949.5H963.6V949.2H966.6V950.4H969.6V947.7H972.6V944.2H975.6V946.6H978.6V943.8H981.6V943.2H984.6V944.3H987.6V942.7H990.6V943.5H993.6V939.4H996.6V937.7H999.6V937.0H1002.6V937.8H1005.6V933.8H1008.6V933.9H1011.6V931.6H1014.6V930.8H1017.6V931.2H1020.6V936.8H1023.6V928.7H1026.6V929.3H1029.6V927.8H1032.6V926.1H1035.6V925.6H1038.6V929.5H1041.6V922.8H1044.6V926.5H1047.6V923.1H1050.6V918.2H1053.6V917.7H1056.6V917.2H1059.6V914.6H1062.6V919.3H1065.6V916.5H1068.6V915.8H1071.6V910.9H1074.6V913.8H1077.6V910.3H1080.6V916.9H1083.6V909.6H1086.6V909.7H1089.6V909.1H1092.6V906.0H1095.6V905.4H1098.6V904.6H1101.6V906.9H1104.6V902.1H1107.6V902.8H1110.6V903.3H1113.6V900.7H1116.6V897.6H1119.6V897.3H1122.6V898.6H1125.6V896.6H1128.6V900.9H1131.6V897.9H1134.6V897.2H1137.6V894.2H1140.6V897.6H1143.6V894.9H1146.6V892.9H1149.6V893.3H1152.6V900.5H1155.6V892.6H1158.6V891.6H1161.6V896.4H1164.6V895.1H1167.6V892.3H1170.6V896.3H1173.6V888.9H1176.6V891.3H1179.6V888.2H1182.6V895.7H1185.6V892.4H1188.6V898.8H1191.6V893.4H1194.6V893.5H1197.6V889.5H1200.6V889.5H1203.6V891.4H1206.6V895.1H1209.6V890.3H1212.6V887.2H1215.6V895.7H1218.6V896.1H1221.6V891.8H1224.6V895.7H1227.6V897.8H1230.6V898.4H1233.6V891.8H1236.6V896.5H1239.6V894.9H1242.6V899.9H1245.6V898.2H1248.6V895.4H1251.6V899.5H1254.6V901.5H1257.6V896.5H1260.6V897.7H1263.6V900.2H1266.6V901.9H1269.6V902.0H1272.6V899.5H1275.6V901.0H1278.6V906.0H1281.6V908.1H1284.6V905.5H1287.6V909.4H1290.6V915.0H1293.6V910.4H1296.6V910.8H1299.6V911.2H1302.6V915.6H1305.6V916.1H1308.6V917.3H1311.6V916.9H1314.6V920.3H1317.6V921.6H1320.6V921.4H1323.6V926.4H1326.6V920.3H1329.6V928.1H1332.6V927.2H1335.6V931.5H1338.6V936.0H1341.6V932.4H1344.6V933.4H1347.6V935.5H1350.6V941.2H1353.6V943.4H1356.6V941.2H1359.6V944.3H1362.6V949.4H1365.6V947.6H1368.6V943.5H1371.6V947.3H1374.6V950.1H1377.6V954.5H1380.6V953.6H1383.6V961.2H1386.6V957.6H1389.6V965.5H1392.6V960.9H1395.6V968.6H1398.6V967.1H1401.6V972.7H1404.6V976.1H1407.6V977.4H1410.6V977.2H1413.6V973.7H1416.6V975.4H1419.6V970.1H1422.6V985.9H1425.6V987.1H1428.6V988.2H1431.6V983.5H1434.6V997.1H1437.6V988.5H1440.6V994.9H1443.6V989.1H1446.6V993.9H1449.6V1001.3H1452.6V1002.5H1455.6V997.7H1458.6V1002.5H1461.6V1007.9H1464.6V1000.4H1467.6V1010.2H1470.6V1004.7H1473.6V1013.1H1476.6V1012.0H1479.6V1017.5H1482.6V1014.5H1485.6V1016.6H1488.6V1018.2H1491.6V1017.9H1494.6V1021.6H1497.6V1020.8H1500.6V1023.9H1503.6V1029.4H1506.6V1027.7H1509.6V1033.8H1512.6V1034.2H1515.6V1036.1H1518.6V1031.3H1521.6V1037.9H1524.6V1042.7H1527.6V1042.5H1530.6V1045.0H1533.6V1047.5H1536.6V1039.0H1539.6V1047.3H1542.6V1048.7H1545.6V1047.7H1548.6V1045.4H1551.6V1051.7H1554.6V1052.2H1557.6V1060.7H1560.6V1060.0H1563.6V1055.6H1566.6V1054.9H1569.6V1057.0H1572.6V1061.2H1575.6V1060.3H1578.6V1071.0H1581.6V1061.5H1584.6V1066.8H1587.6V1069.0H1590.6V1071.3H1593.6V1068.1H1596.6V1071.9H1599.6V1074.7H1602.6V1076.7H1605.6V1074.9H1608.6V1077.2H1611.6V1080.4H1614.6V1087.8H1617.6V1078.2H1620.6V1086.3H1623.6V1090.8H1626.6V1081.6H1629.6V1093.0H1632.6V1094.3H1635.6V1090.8H1638.6V1095.4H1641.6V1098.6H1644.6V1094.0H1647.6V1096.7H1650.6V1093.3H1653.6V1096.0H1656.6V1100.1H1659.6V1100.8H1662.6V1108.3H1665.6V1102.9H1668.6V1100.5H1671.6V1109.5H1674.6V1110.9H1677.6V1110.3H1680.6V1109.5H1683.6V1108.3H1686.6V1110.1H1689.6V1119.4H1692.6V1117.9H1695.6V1116.6H1698.6V1119.0H1701.6V1117.3H1704.6V1116.3H1707.6V1119.2H1710.6V1122.0H1713.6V1117.1H1716.6V1119.0H1719.6V1119.1H1722.6V1125.1H1725.6V1130.4H1728.6V1124.0H1731.6V1125.9H1734.6V1125.2H1737.6V1130.7H1740.6V1129.0H1743.6V1130.9H1746.6V1131.6H1749.6V1145.9H1752.6V1137.8H1755.6V1136.7H1758.6V1138.6H1761.6V1145.0H1764.6V1146.5H1767.6V1144.9H1770.6V1137.1H1773.6V1150.0H1776.6V1151.4H1779.6V1151.4H1782.6V1151.3H1785.6V1150.8H1788.6V1156.5H1791.6V1151.5H1794.6V1158.1H1797.6V1153.0H1800.6V1154.4H1803.6V1155.3H1806.6V1155.9H1809.6V1157.3H1812.6V1163.5H1815.6V1167.9H1818.6V1159.6H1821.6V1159.3H1824.6V1169.9H1827.6V1164.4H1830.6V1168.0H1833.6V1168.5H1836.6V1172.8H1839.6V1166.3H1842.6V1175.9H1845.6V1175.5H1848.6V1163.8H1851.6V1173.5H1854.6V1173.6H1857.6V1177.9H1860.6V1177.1H1863.6V1175.1H1866.6V1177.9H1869.6V1181.9H1872.6V1181.6H1875.6V1181.8H1878.6V1193.1H1881.6V1186.8H1884.6V1180.7H1887.6V1187.0H1890.6V1189.0H1893.6V1184.2H1896.6V1190.0H1899.6V1186.8H1902.6V1181.7H1905.6V1194.0H1908.6V1196.3H1911.6V1197.2H1914.6V1194.8H1917.6V1193.8H1920.6V1198.4H1923.6V1200.2H1926.6V1203.4H1929.6V1206.3H1932.6V1204.8H1935.6V1199.5H1938.6V1202.8H1941.6V1197.7H1944.6V1208.2H1947.6V1208.5H1950.6V1212.3H1953.6V1210.0H1956.6V1215.9H1959.6V1206.5H1962.6V1212.1H1965.6V1210.4H1968.6V1211.4H1971.6V1205.2H1974.6V1210.8H1977.6V1206.0H1980.6V1214.6H1983.6V1213.8H1986.6V1218.5H1989.6V1210.3H1992.6V1217.3H1995.6V1219.5H1998.6V1210.8H2001.6V1230.3H2004.6V1225.8H2007.6V1220.8H2010.6V1234.3H2013.6V1232.8H2016.6V1215.6H2019.6V1226.9H2022.6V1226.3H2025.6V1230.5H2028.6V1226.7H2031.6V1231.0H2034.6V1233.5H2037.6V1222.1H2040.6V1235.6H2043.6V1242.8H2046.6V1237.5H2049.6V1243.4H2052.6V1246.4H2055.6V1241.0H2058.6V1242.3H2061.6V1243.2H2064.6V1240.0H2067.6V1254.0H2070.6V1245.8H2073.6V1247.1H2076.6V1249.7H2079.6V1253.0H2082.6V1239.6H2085.6V1241.9H2088.6V1248.4H2091.6V1250.9H2094.6V1242.8H2097.6V1242.6H2100.6V1253.9H2103.6V1254.2H2106.6V1249.6H2109.6V1250.2H2112.6V1248.9H2115.6V1246.7H2118.6V1248.7H2121.6V1254.5H2124.6V1253.2H2127.6V1259.5H2130.6V1248.4H2133.6V1246.9H2136.6V1259.0H2139.6V1251.7H2142.6V1255.5H2145.6V1257.7H2148.6V1251.6H2151.6V1250.7H2154.6V1260.5H2157.6V1245.6H2160.6V1263.4H2163.6V1251.5H2166.6V1265.5H2169.6V1263.5H2172.6V1263.7H2175.6V1265.7H2178.6V1264.5H2181.6V1257.2H2184.6V1269.4H2187.6V1266.5H2190.6V1269.0H2193.6V1266.6H2196.6V1266.6H2199.6V1273.7H2202.6V1274.5H2205.6V1271.6H2208.6V1264.8H2211.6V1267.0H2214.6V1267.4H2217.6V1279.5H2220.6V1277.1H2223.6V1275.6H2226.6V1275.3H2229.6V1272.9H2232.6V1282.1H2235.6V1272.9H2238.6V1274.7H2241.6V1284.5H2244.6V1284.1H2247.6V1281.1H2250.6V1275.3H2253.6V1275.9H2256.6V1288.0H2259.6V1286.0H2262.6V1292.7H2265.6V1282.5H2268.6V1285.1H2271.6V1280.9H2274.6V1295.5H2277.6V1277.6H2280.6V1290.5H2283.6V1296.2H2286.6V1282.3H2289.6V1279.8H2292.6V1282.3H2295.6V1280.0H2298.6V1289.8H2301.6V1287.3H2304.6V1282.6H2307.6V1285.9H2310.6V1295.6" fill="none" stroke="#ff0000" stroke-width="5.0" stroke-linejoin="miter"/>
<rect x="358.9" y="63.3" width="9.4" height="1470.0" fill="#bbb"/>
<rect x="361.1" y="63.3" width="5" height="1470.0" fill="#000"/>
<rect x="361.1" y="1511.8" width="1951.0" height="7.1" fill="#777"/>
<rect x="361.1" y="1511.8" width="1951.0" height="4.8" fill="#000"/>
<rect x="336.5" y="1512.1" width="27.1" height="4.8" fill="#000"/>
<rect x="349" y="1331.0" width="14.6" height="4.8" fill="#000"/>
<rect x="336.5" y="1149.9" width="27.1" height="4.8" fill="#000"/>
<rect x="349" y="968.8" width="14.6" height="4.8" fill="#000"/>
<rect x="336.5" y="787.6" width="27.1" height="4.8" fill="#000"/>
<rect x="349" y="606.5" width="14.6" height="4.8" fill="#000"/>
<rect x="336.5" y="425.4" width="27.1" height="4.8" fill="#000"/>
<rect x="349" y="244.3" width="14.6" height="4.8" fill="#000"/>
<rect x="336.5" y="63.2" width="27.1" height="4.8" fill="#000"/>
<rect x="361.1" y="1514" width="5" height="19.3" fill="#000"/>
<rect x="555.7" y="1514" width="5" height="31.7" fill="#000"/>
<rect x="750.3" y="1514" width="5" height="19.3" fill="#000"/>
<rect x="944.9" y="1514" width="5" height="31.7" fill="#000"/>
<rect x="1139.5" y="1514" width="5" height="19.3" fill="#000"/>
<rect x="1334.1" y="1514" width="5" height="31.7" fill="#000"/>
<rect x="1528.6" y="1514" width="5" height="19.3" fill="#000"/>
<rect x="1723.2" y="1514" width="5" height="31.7" fill="#000"/>
<rect x="1917.8" y="1514" width="5" height="19.3" fill="#000"/>
<rect x="2112.4" y="1514" width="5" height="31.7" fill="#000"/>
<rect x="2307.0" y="1514" width="5" height="19.3" fill="#000"/>
<text transform="translate(315,1533.5) scale(1,1.04)"  font-size="68.5" text-anchor="end">0.0</text>
<text transform="translate(315,1171.3) scale(1,1.04)"  font-size="68.5" text-anchor="end">0.2</text>
<text transform="translate(315,809.0) scale(1,1.04)"  font-size="68.5" text-anchor="end">0.4</text>
<text transform="translate(315,446.8) scale(1,1.04)"  font-size="68.5" text-anchor="end">0.6</text>
<text transform="translate(315,84.6) scale(1,1.04)"  font-size="68.5" text-anchor="end">0.8</text>
<text transform="translate(558.2,1616) scale(1,1.04)"  font-size="68.5" text-anchor="middle">500</text>
<text transform="translate(947.4,1616) scale(1,1.04)"  font-size="68.5" text-anchor="middle">600</text>
<text transform="translate(1336.6,1616) scale(1,1.04)"  font-size="68.5" text-anchor="middle">700</text>
<text transform="translate(1725.7,1616) scale(1,1.04)"  font-size="68.5" text-anchor="middle">800</text>
<text transform="translate(2114.9,1616) scale(1,1.04)"  font-size="68.5" text-anchor="middle">900</text>
<text x="1338.2" y="1751.5"  font-size="88" text-anchor="middle">Wavelength (nm)</text>
<text transform="translate(106,847.5) rotate(-90)" x="0" y="0"  font-size="87.6" text-anchor="middle">Absorbance (O.D.)</text>
<rect x="405.8" y="70.5" width="1055.5" height="217.1" fill="#1e1e1e"/>
<rect x="405.8" y="70.5" width="1053.1" height="214.5" fill="#777"/>
<rect x="407.9" y="72.9" width="1051.0" height="212.1" fill="#4a4a4a"/>
<rect x="410.4" y="75.0" width="1046.5" height="208.0" fill="#b0b0b0"/>
<rect x="410.4" y="75.0" width="1044.5" height="206.0" fill="#fff"/>
<rect x="443.6" y="124.4" width="198.3" height="5.4" fill="#000"/>
<rect x="443.6" y="231.8" width="198.3" height="5.4" fill="#ff0000"/>
<text transform="translate(660.5,158.2) scale(1,1.025)"  font-size="88">25 nm x 85 nm rods</text>
<text transform="translate(660.5,265.7) scale(1,1.025)"  font-size="88">25 nm x 35 nm rods</text>
</svg>
</body></html>
